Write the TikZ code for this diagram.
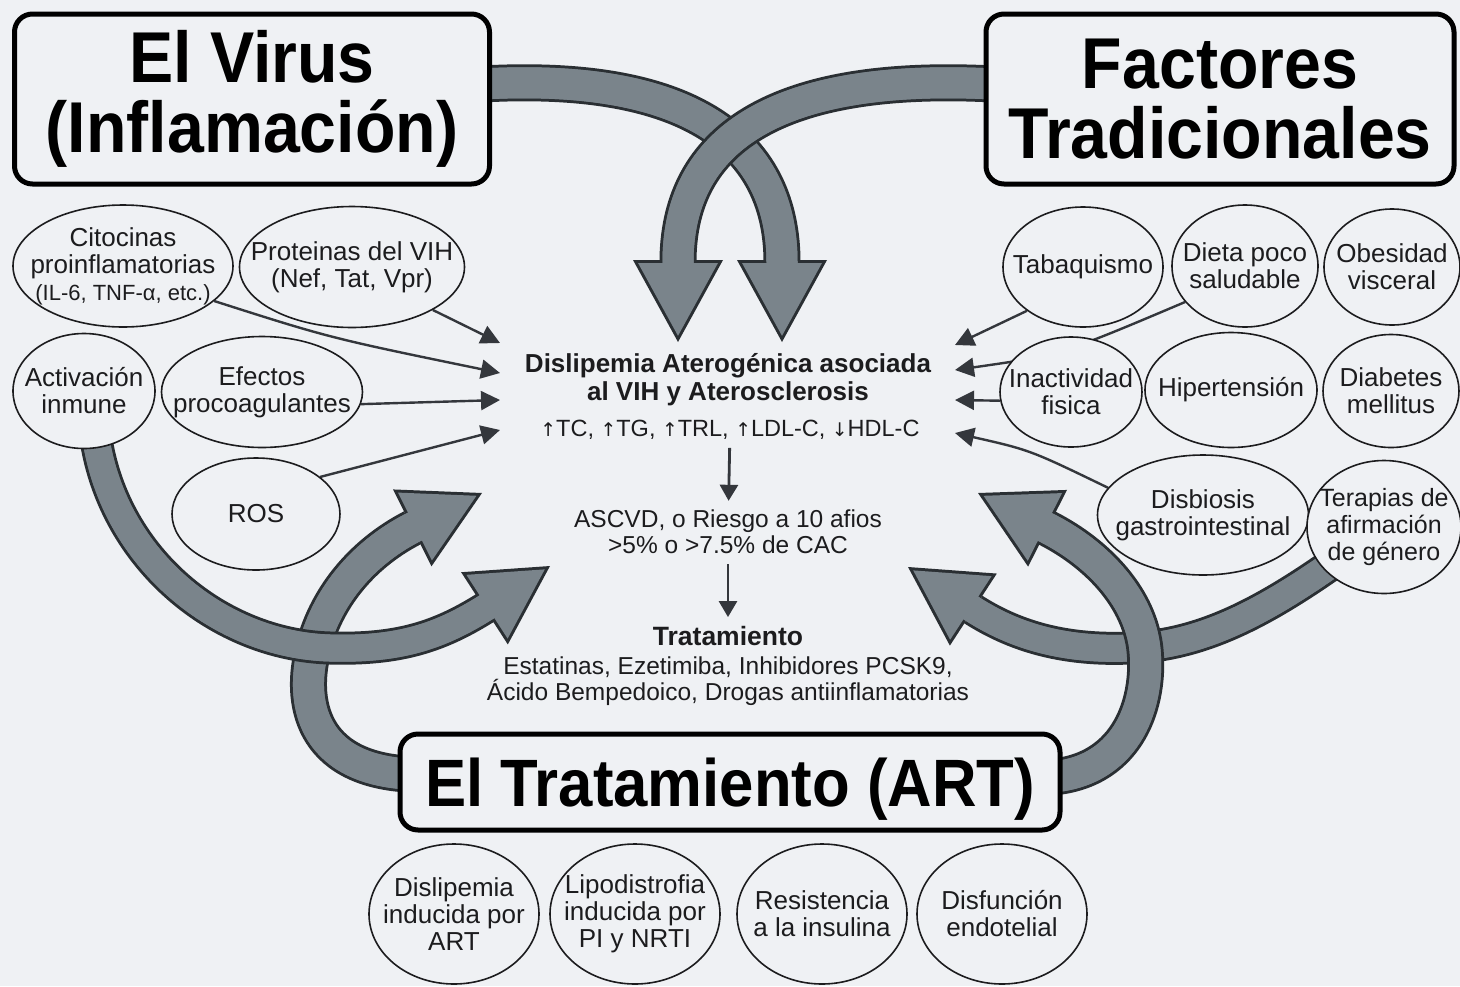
\documentclass[tikz,border=0pt]{standalone}
\usepackage{fontspec}
\setmainfont{Liberation Sans}
\newfontfamily\titlefont[FakeStretch=0.92]{Liberation Sans}
\newfontfamily\arrowfont[Scale=0.8]{DejaVu Sans}
\usetikzlibrary{arrows.meta,shapes.geometric}

\definecolor{paper}{RGB}{239,241,244}
\definecolor{ink}{RGB}{28,28,30}
\definecolor{wire}{RGB}{52,55,60}
\definecolor{bandfill}{RGB}{122,132,139}
\definecolor{bandedge}{RGB}{42,47,51}

\pgfdeclarelayer{paperlayer}
\pgfdeclarelayer{bands}
\pgfsetlayers{paperlayer,bands,main}

\newcommand{\up}{{\arrowfont\char"2191}}
\newcommand{\down}{{\arrowfont\char"2193}}

\tikzset{
  titlebox/.style={draw=black, line width=5pt, rounded corners=18pt, fill=paper,
    align=center, font=\titlefont\bfseries\fontsize{72}{70}\selectfont},
  bubble/.style={ellipse, draw=ink, line width=1.6pt, fill=paper, inner sep=0pt},
  bubtxt/.style={text=ink, align=center, inner sep=0pt, font=\fontsize{26}{27}\selectfont},
  midtxt/.style={text=ink, align=center, inner sep=0pt, font=\fontsize{24.5}{26}\selectfont},
  wirearrow/.style={draw=wire, line width=2.4pt, -{Triangle[length=19pt,width=19pt]}},
  midarrow/.style={draw=wire, line width=2.8pt, -{Triangle[length=16pt,width=18pt]}},
  band edge/.style={draw=bandedge, line width=#1, line join=round},
  band core/.style={draw=bandfill, line width=#1, line join=round},
  top head/.style={-{Triangle[length=82pt,width=90pt,line width=0pt]}},
  top shaft/.style={shorten >=76pt},
  top tip/.style={shorten >=6.2pt, -{Triangle[length=72.8pt,width=79.9pt,line width=0pt]}},
  low head/.style={-{Triangle[length=78pt,width=86pt,line width=0pt]}},
  low shaft/.style={shorten >=72pt},
  low tip/.style={shorten >=6.2pt, -{Triangle[length=68.8pt,width=75.9pt,line width=0pt]}},
}

% fat arrow: dark rim, grey shaft, grey head
\newcommand{\bigarrow}[4]{%
  \draw[band edge=#2, #1 head] #4;
  \draw[band core=#3, #1 shaft] #4;
  \draw[band core=#3, #1 tip] #4;
}

\begin{document}
\begin{tikzpicture}[x=1pt, y=-1pt]
  \begin{pgfonlayer}{paperlayer}
    \fill[paper] (0,0) rectangle (1460,986);
  \end{pgfonlayer}
  \useasboundingbox (0,0) rectangle (1460,986);

  % Headline boxes
  \node[titlebox, minimum width=475pt, minimum height=170pt] (virus) at (252,99) {El Virus\\(Inflamación)};
  \node[titlebox, minimum width=468pt, minimum height=170pt] (fact) at (1220,99) {Factores\\Tradicionales};
  \node[titlebox, minimum width=660pt, minimum height=96pt, text height=48pt, text depth=0pt,
    font=\titlefont\bfseries\fontsize{67}{67}\selectfont] (art) at (730,782) {El Tratamiento (ART)};

  % Virus side
  \node[bubble, minimum width=220pt, minimum height=122pt,
    label={[bubtxt]center:{Citocinas\\proinflamatorias\\{\fontsize{22}{26}\selectfont (IL-6, TNF-α, etc.)}}}] (cito) at (123,266) {};
  \node[bubble, minimum width=225pt, minimum height=121pt,
    label={[bubtxt]center:{Proteinas del VIH\\(Nef, Tat, Vpr)}}] (prot) at (352,267) {};
  \node[bubble, minimum width=142pt, minimum height=115pt,
    label={[bubtxt]center:{Activación\\inmune}}] (activ) at (84,391) {};
  \node[bubble, minimum width=201pt, minimum height=111pt,
    label={[bubtxt]center:{Efectos\\procoagulantes}}] (efect) at (262,392) {};
  \node[bubble, minimum width=168pt, minimum height=112pt,
    label={[bubtxt]center:ROS}] (ros) at (256,514) {};

  % Traditional factors
  \node[bubble, minimum width=160pt, minimum height=120pt,
    label={[bubtxt]center:Tabaquismo}] (tab) at (1083,267) {};
  \node[bubble, minimum width=146pt, minimum height=122pt,
    label={[bubtxt]center:{Dieta poco\\saludable}}] (dieta) at (1245,266) {};
  \node[bubble, minimum width=136pt, minimum height=116pt,
    label={[bubtxt]center:{Obesidad\\visceral}}] (obes) at (1392,267) {};
  \node[bubble, minimum width=142pt, minimum height=110pt,
    label={[bubtxt]center:{Inactividad\\fisica}}] (inact) at (1071,392) {};
  \node[bubble, minimum width=172pt, minimum height=115pt,
    label={[bubtxt]center:Hipertensión}] (hiper) at (1231,390) {};
  \node[bubble, minimum width=136pt, minimum height=113pt,
    label={[bubtxt]center:{Diabetes\\mellitus}}] (diab) at (1391,391) {};
  \node[bubble, minimum width=211pt, minimum height=120pt,
    label={[bubtxt]center:{Disbiosis\\gastrointestinal}}] (disb) at (1203,515) {};
  \node[bubble, minimum width=154pt, minimum height=133pt,
    label={[bubtxt, font=\fontsize{25}{27}\selectfont]center:{Terapias de\\afirmación\\de género}}] (terap) at (1384,527) {};

  % ART effects
  \foreach \nm/\cx/\txt in {dislart/454/{Dislipemia\\inducida por\\ART},
      lipo/635/{Lipodistrofia\\inducida por\\PI y NRTI},
      resis/822/{Resistencia\\a la insulina},
      disf/1002/{Disfunción\\endotelial}} {
    \node[bubble, minimum width=170pt, minimum height=140pt,
      label={[bubtxt]center:\txt}] (\nm) at (\cx,914) {};
  }

  % Central chain
  \node[midtxt, font=\bfseries\fontsize{26}{28}\selectfont] (dislip) at (728,380)
    {Dislipemia Aterogénica asociada\\al VIH y Aterosclerosis};
  \node[midtxt, font=\fontsize{23.5}{26}\selectfont] (lipids) at (730,430) {\up TC, \up TG, \up TRL, \up LDL-C, \down HDL-C};
  \node[midtxt] (riesgo) at (728,532) {ASCVD, o Riesgo a 10 afios\\>5\% o >7.5\% de CAC};
  \node[midtxt, font=\bfseries\fontsize{26.5}{28}\selectfont] (trat) at (728,636) {Tratamiento};
  \node[midtxt] (drugs) at (728,681) {Estatinas, Ezetimiba, Inhibidores PCSK9,\\Ácido Bempedoico, Drogas antiinflamatorias};

  \draw[midarrow, shorten <=8pt, shorten >=9pt] (lipids) -- (riesgo);
  \draw[midarrow, shorten <=10pt, shorten >=9pt] (riesgo) -- (trat);

  % arrow ends
  \coordinate (inL1) at (500,343);
  \coordinate (inL2) at (500,373);
  \coordinate (inL3) at (500,400);
  \coordinate (inL4) at (500,430);
  \coordinate (inR1) at (955,345);
  \coordinate (inR2) at (955,370);
  \coordinate (inR3) at (955,400);
  \coordinate (inR4) at (955,433);
  \coordinate (tipV) at (782,342);
  \coordinate (tipF) at (678,342);
  \coordinate (tipA) at (482,493);
  \coordinate (tipB) at (550,566);
  \coordinate (tipC) at (978,493);
  \coordinate (tipD) at (908,567);

  \begin{pgfonlayer}{bands}
    % thin arrows into the centre
    \draw[wirearrow] (prot.-28) -- (inL1);
    \draw[wirearrow] (cito.-21) .. controls (330,338) .. (inL2);
    \draw[wirearrow] (efect.-7) -- (inL3);
    \draw[wirearrow] (ros.30) -- (inL4);
    \draw[wirearrow] (tab.-142) -- (inR1);
    \draw[wirearrow] (dieta.-149) .. controls (1060,355) .. (inR2);
    \draw[wirearrow] (inact.187) -- (inR3);
    \draw[wirearrow] (disb.164) .. controls (1030,450) .. (inR4);

    % fat arrows, upper pair
    \bigarrow{top}{37pt}{31pt}{([xshift=-10pt,yshift=15pt]virus.east) .. controls (700,72) and (782,150) .. (782,262) -- (tipV)}
    \bigarrow{top}{37pt}{31pt}{([xshift=10pt,yshift=15pt]fact.west) .. controls (760,72) and (678,150) .. (678,262) -- (tipF)}
    % fat arrows, lower left
    \bigarrow{low}{37pt}{31pt}{([xshift=10pt,yshift=8pt]art.west) .. controls (310,768) and (300,700) .. (313,650) .. controls (325,600) and (360,555) .. (412,528) -- (tipA)}
    \bigarrow{low}{33pt}{27pt}{([xshift=12pt,yshift=10pt]activ.south) .. controls (115,560) and (220,645) .. (330,648) .. controls (400,650) and (440,636) .. (485,608) -- (tipB)}
    % fat arrows, lower right
    \bigarrow{low}{33pt}{27pt}{([xshift=15pt,yshift=10pt]terap.-145) .. controls (1260,615) and (1200,645) .. (1130,648) .. controls (1060,651) and (1012,634) .. (974,610) -- (tipD)}
    \bigarrow{low}{37pt}{31pt}{([xshift=-10pt,yshift=5pt]art.east) .. controls (1130,770) and (1150,700) .. (1145,650) .. controls (1140,600) and (1100,555) .. (1047,528) -- (tipC)}
  \end{pgfonlayer}
\end{tikzpicture}
\end{document}
